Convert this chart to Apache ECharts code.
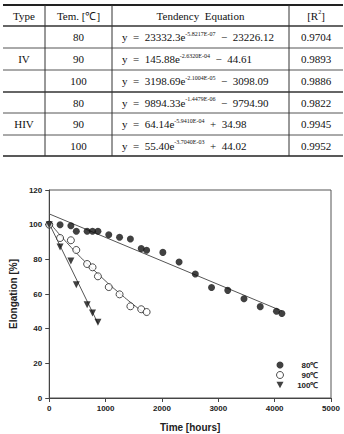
<!DOCTYPE html>
<html><head><meta charset="utf-8">
<script src="https://cdn.jsdelivr.net/npm/echarts@6/dist/echarts.min.js"></script>
<style>html,body{margin:0;padding:0;background:#fff}#c{width:344px;height:434px}</style>
</head><body><div id="c"></div>
<script>
// ---- chart data ----
const hours80 = [0,192,384,480,672,768,864,1056,1248,1440,1632,1728,2016,2304,2592,2880,3168,3456,3744,4032,4128];
const elong80 = [100,100,99.4,96.2,96.2,96.2,96.2,94.2,92.7,91.7,86.3,85.2,84.0,78.5,71.5,63.7,62.1,57.3,52.7,50.0,48.8];
const hours90 = [0,192,384,480,672,768,864,1056,1248,1440,1632,1728];
const elong90 = [100,92.3,91.0,85.4,77.3,75.4,70.2,64.0,59.8,52.9,51.2,49.6];
const hours100 = [0,192,384,480,672,768,864];
const elong100 = [100,87.1,79.0,65.4,53.8,49.0,43.7];
const trendHours80 = [0,4128];
const trend80 = [106.2,50.2];
const trendHours90 = [0,432,864,1296,1728];
const trend90 = [101.3,85.4,71.6,59.1,48.0];
const trendHours100 = [0,864];
const trend100 = [100.6,43.1];
const seriesNames = ['80℃','90℃','100℃'];
const xAxisName = 'Time [hours]';
const yAxisName = 'Elongation [%]';

// ---- table data ----
const tableHeaders = ['Type','Tem. [℃]','Tendency  Equation'];
const types = ['IV','HIV'];
const temps = ['80','90','100','80','90','100'];
const coefA = ['23332.3','145.88','3198.69','9894.33','64.14','55.40'];
const expo = ['-5.8217E-07','-2.6320E-04','-2.1004E-05','-1.4479E-06','-5.9410E-04','-3.7040E-03'];
const ops = ['−','−','−','−','+','+'];
const coefB = ['23226.12','44.61','3098.09','9794.90','34.98','44.02'];
const r2 = ['0.9704','0.9893','0.9886','0.9822','0.9945','0.9952'];

const pair = (xs, ys) => xs.map((x,i)=>[x, ys[i]]);

// ---- table drawing (layout) ----
const serif = 'Liberation Serif, serif';
const tL = 3, tR = 343;
const colX = [45,112,289];
const rowY = [5,26,48,70,92,113,135,156];
const g = [];
function hline(y, w, c){ g.push({type:'line', shape:{x1:tL,y1:y,x2:tR,y2:y}, style:{stroke:c,lineWidth:w}, silent:true}); }
function vline(x){ g.push({type:'line', shape:{x1:x,y1:rowY[0],x2:x,y2:rowY[7]}, style:{stroke:'#333',lineWidth:1}, silent:true}); }
const rich = {
  a:{fontFamily:serif,fontSize:11,fill:'#111',lineHeight:13,verticalAlign:'middle'},
  s:{fontFamily:serif,fontSize:6,fill:'#111',lineHeight:13,verticalAlign:'top'}
};
function txt(x,y,text,align){
  g.push({type:'text', silent:true, style:{x:x,y:y,text:text,align:align,verticalAlign:'middle',
    fontFamily:serif,fontSize:11,fill:'#111',rich:rich}});
}
hline(rowY[0],2,'#222'); hline(rowY[1],1.5,'#333');
hline(rowY[2],1,'#555'); hline(rowY[3],1,'#555'); hline(rowY[4],1.5,'#333');
hline(rowY[5],1,'#555'); hline(rowY[6],1,'#555'); hline(rowY[7],1.5,'#222');
colX.forEach(vline);
const colC = [(tL+colX[0])/2,(colX[0]+colX[1])/2,(colX[1]+colX[2])/2,(colX[2]+tR)/2];
tableHeaders.forEach((h,i)=> txt(colC[i], (rowY[0]+rowY[1])/2, '{a|'+h+'}', 'center'));
txt(colC[3], (rowY[0]+rowY[1])/2, '{a|[R}{s|2}{a|]}', 'center');
types.forEach((t,i)=> txt(colC[0], (rowY[1+3*i]+rowY[4+3*i])/2, '{a|'+t+'}', 'center'));
temps.forEach((t,i)=>{
  const yc = (rowY[i+1]+rowY[i+2])/2;
  txt(colC[1], yc, '{a|'+t+'}', 'center');
  txt(122, yc, '{a|y  =  '+coefA[i]+'e}{s|'+expo[i]+'}{a|  '+ops[i]+'  '+coefB[i]+'}', 'left');
  txt(colC[3], yc, '{a|'+r2[i]+'}', 'center');
});

const sans = 'Liberation Sans, Arial, sans-serif';
const chart = echarts.init(document.getElementById('c'), null, {renderer:'svg'});
chart.setOption({
  animation:false,
  backgroundColor:'#fff',
  graphic: g,
  grid:{left:43,right:13,top:190,bottom:36,show:true,borderColor:'#555',borderWidth:1,backgroundColor:'transparent'},
  xAxis:{type:'value',min:0,max:5000,interval:1000,
    name:xAxisName,nameLocation:'middle',nameGap:24,
    nameTextStyle:{fontFamily:sans,fontSize:10,fontWeight:'bold',color:'#222'},
    axisLine:{show:true,lineStyle:{color:'#444',width:1}},
    axisTick:{show:true,length:4,lineStyle:{color:'#444'}},
    axisLabel:{fontFamily:sans,fontSize:8,fontWeight:'bold',color:'#222',margin:6,formatter:v=>String(v)},
    splitLine:{show:false}},
  yAxis:{type:'value',min:0,max:120,interval:20,
    name:yAxisName,nameLocation:'middle',nameGap:27,
    nameTextStyle:{fontFamily:sans,fontSize:10,fontWeight:'bold',color:'#222'},
    axisLine:{show:true,lineStyle:{color:'#444',width:1}},
    axisTick:{show:true,length:4,lineStyle:{color:'#444'}},
    axisLabel:{fontFamily:sans,fontSize:8,fontWeight:'bold',color:'#222',margin:7,formatter:v=>String(v)},
    splitLine:{show:false}},
  legend:{data:[
      {name:seriesNames[0],icon:'circle'},
      {name:seriesNames[1],icon:'circle',itemStyle:{borderWidth:1}},
      {name:seriesNames[2],icon:'path://M0,0 L10,0 L5,9 Z'}],
    orient:'vertical',left:276,top:361,itemWidth:7,itemHeight:7,itemGap:2,
    padding:0,
    formatter:n=>'{r|'+n+'}',
    textStyle:{fontFamily:sans,fontSize:8,fontWeight:'bold',color:'#222',
      rich:{r:{width:30,align:'right',fontFamily:sans,fontSize:8,fontWeight:'bold',color:'#222'}}}},
  series:[
    {type:'line',data:pair(trendHours80,trend80),symbol:'none',lineStyle:{color:'#555',width:1},z:1,silent:true},
    {type:'line',data:pair(trendHours90,trend90),symbol:'none',smooth:true,lineStyle:{color:'#555',width:1},z:1,silent:true},
    {type:'line',data:pair(trendHours100,trend100),symbol:'none',lineStyle:{color:'#555',width:1},z:1,silent:true},
    {name:seriesNames[0],type:'scatter',data:pair(hours80,elong80),symbol:'circle',symbolSize:7,
      itemStyle:{color:'#111'},z:3},
    {name:seriesNames[1],type:'scatter',data:pair(hours90,elong90),symbol:'circle',symbolSize:7,
      itemStyle:{color:'#fff',borderColor:'#222',borderWidth:1},z:3},
    {name:seriesNames[2],type:'scatter',data:pair(hours100,elong100),symbol:'triangle',symbolSize:7,symbolRotate:180,
      itemStyle:{color:'#111'},z:3}
  ]
});
</script></body></html>
